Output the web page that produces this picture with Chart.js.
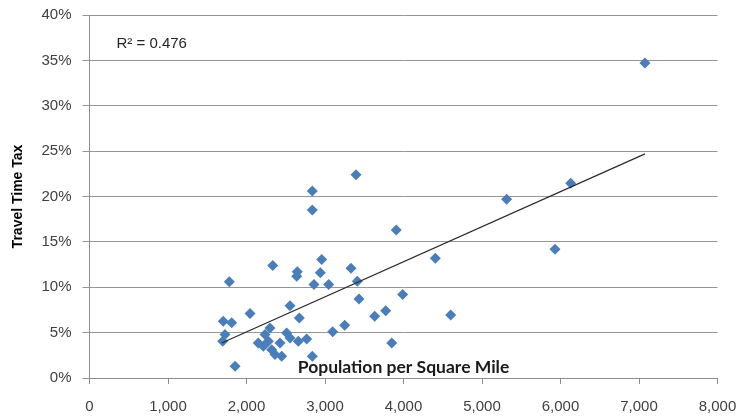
<!DOCTYPE html>
<html>
<head>
<meta charset="utf-8">
<script src="https://cdn.jsdelivr.net/npm/chart.js@4"></script>
<style>
  html, body { margin: 0; padding: 0; background: #ffffff; }
  #wrap { width: 740px; height: 420px; }
</style>
</head>
<body>
<div id="wrap"><canvas id="c" width="740" height="420"></canvas></div>
<script>
// Population per square mile (x) and travel time tax in percent (y)
const density = [
  7076, 6130, 5314, 5930, 4405, 3908, 3990, 4601, 3395, 2838,
  2838, 2958, 2940, 3331, 2860, 3047, 3412, 3433, 3773, 3633,
  3251, 3098, 3850, 2838, 1781, 2334, 2647, 2640, 2045, 2554,
  2673, 1704, 1811, 1726, 1697, 1854, 2150, 2236, 2299, 2278,
  2214, 2321, 2363, 2448, 2427, 2512, 2554, 2660, 2767
];
const travelTax = [
  34.7, 21.45, 19.7, 14.2, 13.2, 16.3, 9.2, 6.95, 22.4, 20.6,
  18.5, 13.06, 11.6, 12.1, 10.3, 10.3, 10.65, 8.7, 7.4, 6.8,
  5.8, 5.1, 3.85, 2.4, 10.6, 12.4, 11.7, 11.2, 7.1, 7.95,
  6.6, 6.25, 6.1, 4.8, 4.05, 1.3, 3.85, 4.8, 5.5, 4.05,
  3.5, 3.1, 2.6, 2.4, 3.85, 4.95, 4.4, 4.05, 4.3
];
// Linear trendline end points
const trendX = [1684, 7076];
const trendY = [3.86, 24.7];
const rSquaredLabel = 'R\u00B2 = 0.476';
const xTitle = 'Population per Square Mile';
const yTitle = 'Travel Time Tax';
const xTicks = [0, 1000, 2000, 3000, 4000, 5000, 6000, 7000, 8000];
const yTicks = [0, 5, 10, 15, 20, 25, 30, 35, 40];

const pts = density.map((x, i) => ({ x: x, y: travelTax[i] }));
const trend = trendX.map((x, i) => ({ x: x, y: trendY[i] }));

const textPlugin = {
  id: 'innerText',
  afterDatasetsDraw(chart) {
    const { ctx, chartArea } = chart;
    ctx.save();
    ctx.fillStyle = '#262626';
    ctx.font = '15px "Liberation Sans", Arial, sans-serif';
    ctx.textAlign = 'left';
    ctx.textBaseline = 'middle';
    ctx.fillText(rSquaredLabel, chartArea.left + 27, chartArea.top + 29);
    ctx.fillStyle = '#1a1a1a';
    ctx.font = 'bold 17.5px Lato, "Open Sans", sans-serif';
    ctx.textAlign = 'center';
    ctx.textBaseline = 'alphabetic';
    ctx.fillText(xTitle, (chartArea.left + chartArea.right) / 2, chartArea.bottom - 5);
    ctx.restore();
  }
};

new Chart(document.getElementById('c'), {
  type: 'scatter',
  data: {
    datasets: [
      {
        label: 'Trend',
        data: trend,
        showLine: true,
        borderColor: '#2a2a2a',
        borderWidth: 1.2,
        pointRadius: 0,
        pointHoverRadius: 0,
        fill: false,
        order: 0
      },
      {
        label: 'Cities',
        data: pts,
        pointStyle: 'rectRot',
        pointRadius: 5.5,
        pointHoverRadius: 5.5,
        backgroundColor: '#4a7ebb',
        borderColor: '#4a7ebb',
        borderWidth: 0,
        order: 1
      }
    ]
  },
  plugins: [textPlugin],
  options: {
    responsive: false,
    animation: false,
    devicePixelRatio: 1,
    layout: { padding: { top: 15, right: 22.5, left: 0, bottom: 0 } },
    plugins: {
      legend: { display: false },
      tooltip: { enabled: false }
    },
    scales: {
      x: {
        type: 'linear',
        min: 0,
        max: 8000,
        afterBuildTicks: (s) => { s.ticks = xTicks.map(v => ({ value: v })); },
        afterFit: (s) => { s.height = 42; s.paddingLeft = 0; s.paddingRight = 0; },
        ticks: {
          color: '#404040',
          font: { family: 'Arial, "Liberation Sans", sans-serif', size: 15 },
          padding: 14,
          maxRotation: 0,
          callback: (v) => v.toLocaleString('en-US')
        },
        grid: { drawOnChartArea: false, drawTicks: true, tickLength: 6, color: '#8c8c8c' },
        border: { display: true, color: '#8c8c8c', width: 1 }
      },
      y: {
        type: 'linear',
        min: 0,
        max: 40,
        afterBuildTicks: (s) => { s.ticks = yTicks.map(v => ({ value: v })); },
        afterFit: (s) => { s.width = 89.5; s.paddingTop = 0; s.paddingBottom = 0; },
        ticks: {
          color: '#404040',
          font: { family: 'Arial, "Liberation Sans", sans-serif', size: 15 },
          padding: 11,
          callback: (v) => v + '%'
        },
        title: {
          display: true,
          text: yTitle,
          color: '#000000',
          font: { family: 'Arial, "Liberation Sans", sans-serif', size: 14, weight: 'bold' },
          padding: { top: 10, bottom: 0 }
        },
        grid: { color: '#969696', lineWidth: 1, tickLength: 7 },
        border: { display: true, color: '#8c8c8c', width: 1 }
      }
    }
  }
});
</script>
</body>
</html>
